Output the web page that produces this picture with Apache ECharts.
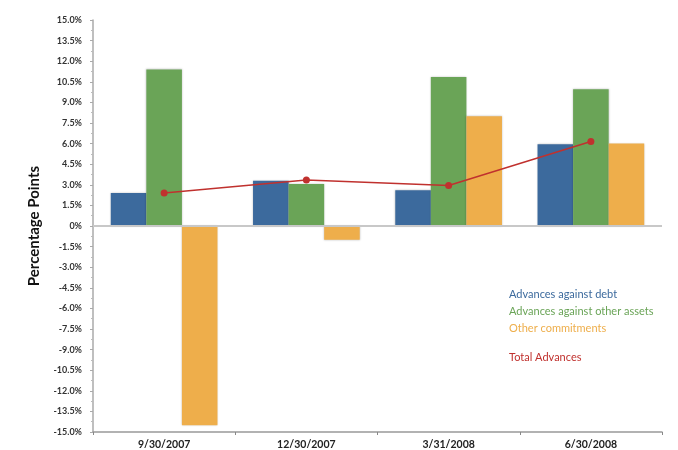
<!DOCTYPE html>
<html><head><meta charset="utf-8">
<script src="https://cdn.jsdelivr.net/npm/echarts@6/dist/echarts.min.js"></script>
<style>html,body{margin:0;padding:0;background:#fff}#c{width:678px;height:450px}</style>
</head><body><div id="c"></div>
<script>
const categories = ['9/30/2007', '12/30/2007', '3/31/2008', '6/30/2008'];
const seriesNames = ['Advances against debt', 'Advances against other assets', 'Other commitments', 'Total Advances'];
const debt = [2.4, 3.3, 2.6, 5.95];
const otherAssets = [11.4, 3.05, 10.85, 9.95];
const otherCommitments = [-14.5, -1.0, 8.0, 6.0];
const totalAdvances = [2.4, 3.35, 2.95, 6.15];
const colors = ['#3c6a9d', '#6aa457', '#eeae4b', '#c0312e'];

const chart = echarts.init(document.getElementById('c'));
const font = 'Lato, "Open Sans", sans-serif';
const barStyle = (c) => ({ color: c, shadowColor: 'rgba(0,0,0,0.25)', shadowBlur: 2 });
const legendY = [296, 313, 330, 359];
chart.setOption({
  animation: false,
  grid: { left: 93, right: 16, top: 20, bottom: 18 },
  xAxis: {
    type: 'category', data: categories,
    axisLine: { onZero: false, lineStyle: { color: '#999', width: 1.5 } },
    axisTick: { show: true, length: 3, inside: false, lineStyle: { color: '#888' } },
    axisLabel: { color: '#222', fontWeight: 'bold', fontSize: 10.5, fontFamily: font, margin: 7 }
  },
  yAxis: {
    type: 'value', min: -15, max: 15, interval: 1.5,
    name: 'Percentage Points', nameLocation: 'middle', nameGap: 51,
    nameTextStyle: { color: '#111', fontWeight: 'bold', fontSize: 15, fontFamily: font },
    axisLine: { show: true, lineStyle: { color: '#aaa', width: 1.5 } },
    axisTick: { show: true, length: 3, lineStyle: { color: '#aaa' } },
    minorTick: { show: true, splitNumber: 2, length: 2, lineStyle: { color: '#bbb' } },
    splitLine: { show: false },
    axisLabel: {
      color: '#333', fontWeight: 'bold', fontSize: 9, fontFamily: font, margin: 11,
      formatter: v => (Math.abs(v) < 1e-9 ? '0%' : v.toFixed(1) + '%')
    }
  },
  series: [
    { name: seriesNames[0], type: 'bar', data: debt, barGap: '0%', barCategoryGap: '25%', itemStyle: barStyle(colors[0]),
      markLine: { silent: true, symbol: 'none', label: { show: false }, lineStyle: { color: '#c8c8c8', width: 2, type: 'solid' }, data: [{ yAxis: 0 }] } },
    { name: seriesNames[1], type: 'bar', data: otherAssets, barGap: '0%', barCategoryGap: '25%', itemStyle: barStyle(colors[1]) },
    { name: seriesNames[2], type: 'bar', data: otherCommitments, barGap: '0%', barCategoryGap: '25%', itemStyle: barStyle(colors[2]) },
    { name: seriesNames[3], type: 'line', data: totalAdvances, symbol: 'circle', symbolSize: 7,
      lineStyle: { color: colors[3], width: 1.5 }, itemStyle: { color: colors[3] }, z: 5 }
  ],
  graphic: seriesNames.map((n, i) => ({
    type: 'text', left: 509, top: legendY[i] - 7,
    style: { text: n, fill: colors[i], fontSize: 11, fontFamily: font }
  }))
});
</script></body></html>
